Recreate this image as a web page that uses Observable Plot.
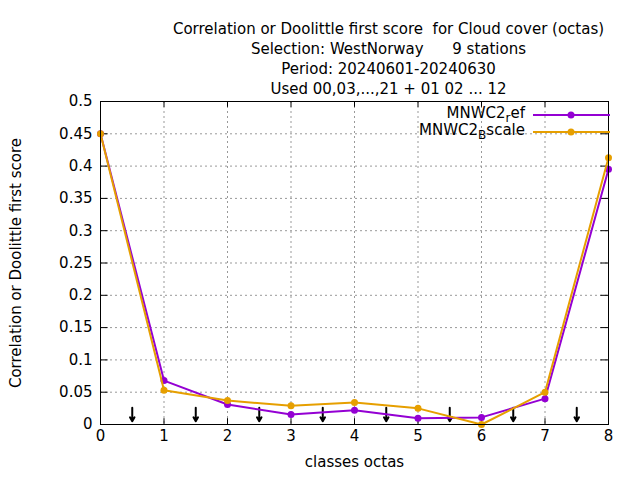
<!DOCTYPE html>
<html><head><meta charset="utf-8">
<script src="https://cdn.jsdelivr.net/npm/d3@7"></script>
<script src="https://cdn.jsdelivr.net/npm/@observablehq/plot@0.6"></script>
<style>body{margin:0;background:#fff}svg{font-family:"DejaVu Sans",sans-serif}</style>
</head><body><div id="chart"></div>
<script>
const classes = [0, 1, 2, 3, 4, 5, 6, 7, 8];
const refScores = [0.45, 0.068, 0.031, 0.0155, 0.022, 0.0095, 0.011, 0.040, 0.395];
const bscaleScores = [0.45, 0.053, 0.037, 0.029, 0.034, 0.025, 0.0, 0.050, 0.413];
const arrowX = [0.5, 1.5, 2.5, 3.5, 4.5, 5.5, 6.5, 7.5];
const titleLines = ["Correlation or Doolittle first score  for Cloud cover (octas)",
  "Selection: WestNorway      9 stations", "Period: 20240601-20240630", "Used 00,03,...,21 + 01 02 ... 12"];
const yTicks = [0, 0.05, 0.1, 0.15, 0.2, 0.25, 0.3, 0.35, 0.4, 0.45, 0.5];

const ref = classes.map((c, i) => ({c, v: refScores[i]}));
const bs = classes.map((c, i) => ({c, v: bscaleScores[i]}));
const purple = "#9400d3", orange = "#e69f00";
const fmtY = d => String(+d.toFixed(2));

let chart = Plot.plot({
  width: 640, height: 480,
  marginLeft: 100, marginRight: 32, marginTop: 101, marginBottom: 56,
  style: {fontSize: "15px", fontFamily: "DejaVu Sans, sans-serif", color: "black"},
  x: {domain: [0, 8], label: null},
  y: {domain: [0, 0.5], label: null},
  marks: [
    Plot.ruleX(classes, {x: d => d, stroke: "#999", strokeDasharray: "2,3"}),
    Plot.ruleY(yTicks, {y: d => d, stroke: "#999", strokeDasharray: "2,3"}),
    Plot.axisX({ticks: classes, tickSize: 0, tickPadding: 6, tickFormat: d3.format("d")}),
    Plot.axisY({ticks: yTicks, tickSize: 0, tickPadding: 8, tickFormat: fmtY}),
    Plot.ruleX(classes, {x: d => d, y1: 0, y2: 0.009, stroke: "black"}),
    Plot.ruleX(classes, {x: d => d, y1: 0.491, y2: 0.5, stroke: "black"}),
    Plot.ruleY(yTicks, {y: d => d, x1: 0, x2: 0.12, stroke: "black"}),
    Plot.ruleY(yTicks, {y: d => d, x1: 7.88, x2: 8, stroke: "black"}),
    Plot.arrow(arrowX, {x1: d => d, x2: d => d, y1: 0.026, y2: 0.005, stroke: "black", strokeWidth: 2, headLength: 5, bend: 0}),
    Plot.line(ref, {x: "c", y: "v", stroke: purple, strokeWidth: 2}),
    Plot.dot(ref, {x: "c", y: "v", fill: purple, r: 3.5}),
    Plot.line(bs, {x: "c", y: "v", stroke: orange, strokeWidth: 2}),
    Plot.dot(bs, {x: "c", y: "v", fill: orange, r: 3.5}),
    Plot.frame({stroke: "black"}),
    ...titleLines.map((t, i) => Plot.text([t], {frameAnchor: "top", dx: 34, dy: -78 + i * 20, fontSize: 15})),
    Plot.text(["Correlation or Doolittle first score"], {frameAnchor: "left", dx: -84, rotate: -90, textAnchor: "middle", fontSize: 15}),
    Plot.text(["classes octas"], {frameAnchor: "bottom", dy: 42, fontSize: 15})
  ]
});
const svg = d3.select(chart);
const leg = [{name: "MNWC2", sub: "r", rest: "ef", col: purple, y: 115}, {name: "MNWC2", sub: "B", rest: "scale", col: orange, y: 132}];
leg.forEach(l => {
  const t = svg.append("text").attr("x", 525).attr("y", l.y + 3).attr("text-anchor", "end").attr("font-size", 15);
  t.append("tspan").text(l.name);
  t.append("tspan").attr("dy", 4).attr("font-size", 12).text(l.sub);
  t.append("tspan").attr("dy", -4).text(l.rest);
  svg.append("line").attr("x1", 533).attr("x2", 610).attr("y1", l.y).attr("y2", l.y).attr("stroke", l.col).attr("stroke-width", 2);
  svg.append("circle").attr("cx", 571).attr("cy", l.y).attr("r", 3.5).attr("fill", l.col);
});
d3.select("#chart").append(() => chart);
</script></body></html>
